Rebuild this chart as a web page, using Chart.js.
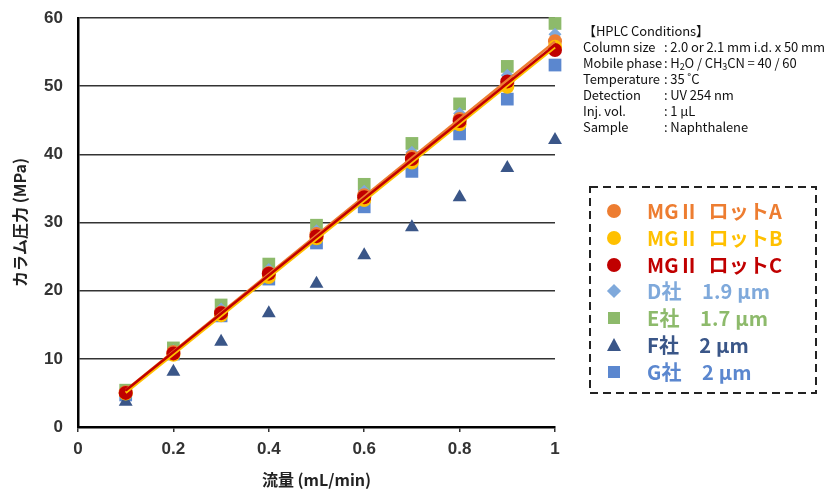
<!DOCTYPE html>
<html>
<head>
<meta charset="utf-8">
<script src="https://cdn.jsdelivr.net/npm/chart.js@4.4.0/dist/chart.umd.min.js"></script>
<style>
body { margin: 0; background: #fff; }
#wrap { position: relative; width: 827px; height: 490px; overflow: hidden; }
#c { position: absolute; left: 0; top: 0; }
#cond { position: absolute; left: 583px; top: 23px; font-family: "Noto Sans CJK JP", "Noto Sans"; font-size: 13px; line-height: 16px; color: #111; white-space: nowrap; letter-spacing: -0.1px; }
#cond .lb { display: inline-block; width: 81px; }
#cond sub { font-size: 9px; vertical-align: -2px; line-height: 0; }
#leg { position: absolute; left: 589px; top: 186px; width: 228px; height: 208px; }
#leg svg { position: absolute; left: 0; top: 0; }
#leg .row { position: absolute; left: 0; height: 22px; width: 220px; }
#leg .tx { position: absolute; left: 58px; top: 0; font-family: "Noto Sans CJK JP"; font-weight: bold; font-size: 20px; line-height: 22px; white-space: pre; letter-spacing: 0.2px; }
#leg .mk { position: absolute; }
</style>
</head>
<body>
<div id="wrap">
  <canvas id="c" width="827" height="490"></canvas>
  <div id="cond">
    <div>【HPLC Conditions】</div>
    <div><span class="lb">Column size</span>: 2.0 or 2.1 mm i.d. x 50 mm</div>
    <div><span class="lb">Mobile phase</span>: H<sub>2</sub>O / CH<sub>3</sub>CN = 40 / 60</div>
    <div><span class="lb">Temperature</span>: 35 ˚C</div>
    <div><span class="lb">Detection</span>: UV 254 nm</div>
    <div><span class="lb">Inj. vol.</span>: 1 µL</div>
    <div><span class="lb">Sample</span>: Naphthalene</div>
  </div>
  <div id="leg">
    <svg width="228" height="208"><rect x="1" y="1" width="226" height="206" fill="none" stroke="#222" stroke-width="2" stroke-dasharray="8 5"/></svg>
  </div>
</div>
<script>
// 流量 (mL/min)
const flow = [0.1, 0.2, 0.3, 0.4, 0.5, 0.6, 0.7, 0.8, 0.9, 1.0];

// カラム圧力 (MPa)
const lotA = [5.1, 11.0, 16.8, 22.6, 28.3, 34.0, 39.6, 45.2, 50.4, 56.6];
const lotB = [4.9, 10.6, 16.4, 22.0, 27.7, 33.3, 38.8, 44.4, 49.9, 55.8];
const lotC = [5.0, 10.8, 16.7, 22.5, 28.0, 33.7, 39.3, 44.9, 50.7, 55.3];
const compD = [5.2, 11.2, 17.3, 23.1, 28.8, 34.6, 40.3, 46.0, 51.6, 57.6];
const compE = [5.4, 11.6, 17.9, 23.9, 29.6, 35.6, 41.6, 47.4, 52.9, 59.2];
const compF = [3.7, 8.1, 12.5, 16.7, 21.0, 25.2, 29.3, 33.7, 38.0, 42.1];
const compG = [4.7, 10.7, 16.3, 21.7, 27.0, 32.3, 37.5, 43.0, 48.1, 53.1];

const names = ['MGⅡ  ロットA', 'MGⅡ  ロットB', 'MGⅡ  ロットC', 'D社　1.9 µm', 'E社　1.7 µm', 'F社　2 µm', 'G社　2 µm'];
const colors = ['#ED7D31', '#FFC000', '#C00000', '#7FA9DB', '#8DBA6B', '#3A5688', '#5B87CF'];
const styles = ['circle', 'circle', 'circle', 'rectRot', 'rect', 'triangle', 'rect'];
const radii = [7, 7, 7, 6.5, 9, 8, 9];
const series = [lotA, lotB, lotC, compD, compE, compF, compG];
// drawing order (bigger = further back)
const depth = [3, 2, 1, 4, 5, 6, 7];

function pts(ys) {
  return flow.map((x, i) => ({ x: x, y: ys[i] }));
}

// linear trendline (least squares), like Excel
function trend(ys) {
  const n = flow.length;
  let sx = 0, sy = 0, sxx = 0, sxy = 0;
  for (let i = 0; i < n; i++) {
    sx += flow[i]; sy += ys[i];
    sxx += flow[i] * flow[i]; sxy += flow[i] * ys[i];
  }
  const b = (n * sxy - sx * sy) / (n * sxx - sx * sx);
  const a = (sy - b * sx) / n;
  return [flow[0], flow[n - 1]].map(x => ({ x: x, y: a + b * x }));
}

const datasets = [];
series.forEach((ys, i) => {
  datasets.push({
    type: 'scatter',
    label: names[i],
    data: pts(ys),
    pointStyle: styles[i],
    pointRadius: radii[i],
    backgroundColor: colors[i],
    borderColor: colors[i],
    borderWidth: 0,
    clip: false,
    order: depth[i] + 3
  });
});
[lotA, lotB, lotC].forEach((ys, i) => {
  datasets.push({
    type: 'line',
    label: 'trend ' + i,
    data: trend(ys),
    borderColor: colors[i],
    borderWidth: 2.5,
    pointRadius: 0,
    fill: false,
    clip: false,
    order: 3 - i
  });
});

const tickFont = { family: 'Liberation Sans', size: 17, weight: 'bold' };
const titleFont = { family: 'Noto Sans CJK JP', size: 16, weight: 'bold' };

new Chart(document.getElementById('c'), {
  type: 'scatter',
  data: { datasets: datasets },
  options: {
    responsive: false,
    animation: false,
    layout: { padding: { left: 0, right: 272, top: 18, bottom: 0 } },
    plugins: { legend: { display: false }, tooltip: { enabled: false } },
    scales: {
      x: {
        type: 'linear', min: 0, max: 1,
        ticks: { stepSize: 0.2, font: tickFont, color: '#333', padding: 7, callback: v => String(Math.round(v * 10) / 10) },
        grid: { drawOnChartArea: false, drawTicks: true, tickLength: 5, color: '#333', lineWidth: 1.5 },
        border: { color: '#000', width: 2.5 },
        title: { display: true, text: '流量 (mL/min)', font: titleFont, color: '#222', padding: { top: 0, bottom: 0 } },
        afterFit: s => { s.height = 63; }
      },
      y: {
        min: 0, max: 60,
        ticks: { stepSize: 10, font: tickFont, color: '#333', padding: 7 },
        grid: { drawTicks: true, tickLength: 8, tickColor: 'rgba(0,0,0,0)', color: '#333', lineWidth: 1.5 },
        border: { color: '#000', width: 2.5 },
        title: { display: true, text: 'カラム圧力 (MPa)', font: titleFont, color: '#222', padding: { top: 10, bottom: 0 } },
        afterFit: s => { s.width = 78; }
      }
    }
  }
});

// legend box
const leg = document.getElementById('leg');
names.forEach((nm, i) => {
  const row = document.createElement('div');
  row.className = 'row';
  row.style.top = (14 + i * 26.8) + 'px';
  const mk = document.createElement('div');
  mk.className = 'mk';
  const c = colors[i];
  if (styles[i] === 'circle') {
    Object.assign(mk.style, { left: '18px', top: '4px', width: '14px', height: '14px', borderRadius: '50%', background: c });
  } else if (styles[i] === 'rect') {
    Object.assign(mk.style, { left: '19px', top: '5px', width: '12px', height: '12px', background: c });
  } else if (styles[i] === 'rectRot') {
    Object.assign(mk.style, { left: '20px', top: '6px', width: '10px', height: '10px', background: c, transform: 'rotate(45deg)' });
  } else {
    Object.assign(mk.style, { left: '18px', top: '4px', width: '0', height: '0', borderLeft: '7px solid transparent', borderRight: '7px solid transparent', borderBottom: '13px solid ' + c });
  }
  const tx = document.createElement('div');
  tx.className = 'tx';
  tx.style.color = c;
  tx.textContent = nm;
  row.appendChild(mk);
  row.appendChild(tx);
  leg.appendChild(row);
});
</script>
</body>
</html>
